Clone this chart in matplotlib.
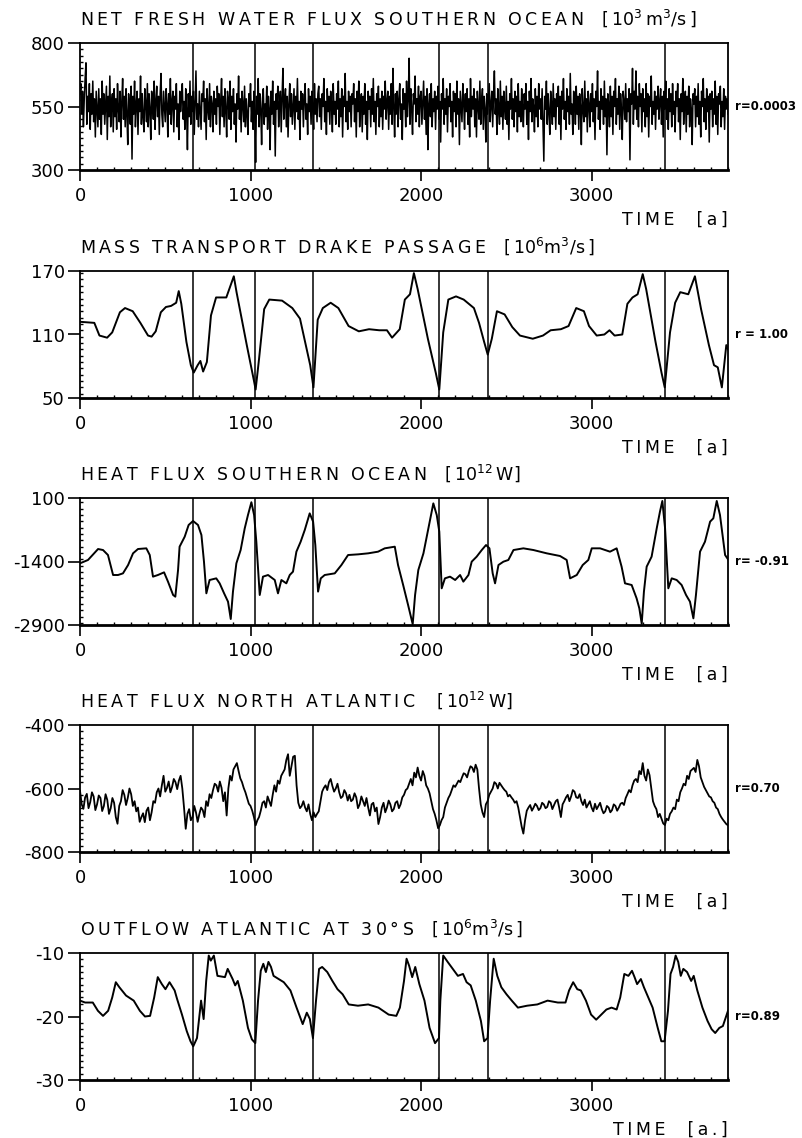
import numpy as np
import matplotlib
matplotlib.use("Agg")
import matplotlib.pyplot as plt
from matplotlib.ticker import MultipleLocator, FixedLocator

OUT_FILE = "out.png"

# years of the Drake Passage minima (vertical marker lines)
EVENTS = [665, 1028, 1368, 2107, 2390, 3428]

# panel 1: net fresh water flux Southern Ocean, one value every 5 years
FW_STEP = 5
FW_VALUES = [
    600, 640, 520, 610, 470, 580, 660, 722, 480, 590, 530, 640, 460, 600, 520, 650, 490, 580, 430, 610,
    540, 470, 620, 500, 580, 440, 650, 520, 600, 480, 560, 630, 420, 590, 510, 670, 470, 560, 600, 450,
    620, 510, 580, 460, 640, 540, 490, 610, 430, 570, 660, 500, 590, 470, 620, 520, 400, 600, 550, 480,
    630, 343, 590, 520, 650, 470, 560, 610, 440, 580, 530, 670, 480, 600, 510, 450, 620, 560, 490, 640,
    470, 600, 540, 420, 610, 580, 500, 650, 460, 570, 630, 510, 590, 440, 600, 680, 520, 470, 610, 550,
    490, 620, 560, 430, 600, 520, 660, 480, 570, 610, 450, 590, 540, 640, 470, 560, 420, 610, 530, 580,
    640, 500, 570, 460, 620, 540, 380, 600, 510, 650, 480, 590, 530, 610, 440, 570, 690, 500, 560, 470,
    610, 530, 460, 600, 570, 650, 490, 580, 420, 620, 540, 500, 640, 470, 590, 560, 450, 610, 520, 580,
    480, 630, 550, 600, 440, 570, 660, 510, 590, 470, 620, 540, 430, 610, 570, 500, 650, 460, 590, 530,
    620, 480, 560, 410, 600, 540, 670, 500, 580, 450, 610, 560, 490, 630, 470, 580, 520, 440, 600, 550,
    640, 490, 570, 460, 610, 530, 330, 590, 520, 660, 470, 600, 540, 400, 580, 620, 480, 560, 510, 630,
    460, 590, 540, 380, 610, 520, 650, 480, 570, 355, 600, 540, 630, 470, 560, 610, 450, 590, 700, 500,
    570, 620, 470, 590, 430, 560, 640, 510, 600, 480, 550, 620, 460, 590, 530, 660, 500, 570, 420, 610,
    540, 600, 470, 580, 640, 500, 560, 440, 620, 530, 590, 480, 610, 550, 460, 640, 520, 580, 490, 600,
    630, 510, 580, 460, 600, 550, 660, 490, 570, 440, 620, 530, 590, 480, 610, 560, 450, 640, 520, 570,
    480, 600, 540, 650, 470, 580, 510, 620, 430, 590, 550, 680, 490, 570, 460, 610, 530, 590, 470, 600,
    560, 640, 490, 580, 430, 610, 530, 650, 470, 560, 600, 450, 590, 520, 640, 480, 570, 420, 610, 540,
    590, 470, 620, 520, 660, 490, 570, 440, 600, 550, 630, 470, 580, 510, 610, 460, 590, 540, 650, 500,
    570, 610, 460, 590, 520, 640, 480, 700, 550, 430, 600, 520, 610, 470, 580, 640, 500, 560, 420, 620,
    540, 600, 470, 650, 510, 580, 740, 480, 620, 540, 440, 600, 560, 670, 490, 580, 520, 630, 470, 590,
    610, 480, 570, 650, 500, 590, 440, 620, 380, 560, 600, 510, 640, 470, 580, 530, 610, 460, 590, 540,
    630, 500, 570, 410, 600, 540, 660, 480, 580, 520, 620, 450, 590, 550, 640, 490, 570, 430, 610, 530,
    600, 470, 650, 520, 580, 400, 610, 550, 490, 640, 570, 460, 600, 530, 620, 480, 580, 430, 660, 510,
    590, 540, 620, 470, 580, 430, 610, 550, 500, 650, 480, 570, 620, 460, 590, 540, 410, 600, 520, 580,
    640, 490, 560, 610, 470, 590, 690, 520, 580, 440, 620, 540, 480, 650, 510, 590, 460, 610, 550, 500,
    630, 480, 570, 420, 600, 540, 660, 500, 580, 470, 610, 530, 590, 450, 640, 510, 570, 490, 620, 550,
    470, 600, 540, 640, 480, 570, 420, 610, 530, 660, 490, 580, 550, 450, 620, 510, 590, 470, 640, 540,
    580, 500, 620, 470, 335, 590, 540, 650, 480, 600, 530, 440, 610, 560, 480, 640, 510, 580, 460, 600,
    550, 630, 480, 590, 420, 610, 540, 660, 500, 570, 460, 620, 530, 590, 480, 680, 520, 560, 440, 610,
    570, 480, 630, 520, 590, 460, 600, 550, 400, 620, 540, 490, 650, 510, 580, 450, 610, 560, 470, 600,
    530, 640, 490, 580, 420, 610, 550, 690, 500, 570, 460, 620, 540, 590, 480, 650, 510, 580, 360, 600,
    560, 470, 630, 510, 590, 440, 610, 550, 660, 480, 580, 520, 630, 460, 600, 540, 420, 610, 570, 500,
    640, 490, 580, 530, 620, 340, 600, 560, 700, 480, 610, 540, 690, 500, 590, 470, 640, 550, 600, 450,
    620, 530, 580, 470, 640, 510, 600, 430, 590, 550, 670, 480, 570, 520, 610, 460, 590, 540, 630, 500,
    570, 620, 480, 590, 430, 610, 540, 650, 500, 580, 460, 620, 530, 600, 470, 640, 520, 570, 450, 610,
    550, 640, 490, 580, 420, 600, 530, 660, 480, 570, 610, 450, 590, 520, 630, 470, 580, 540, 400, 600,
    560, 620, 470, 590, 510, 640, 480, 570, 430, 610, 550, 660, 490, 580, 460, 620, 530, 590, 410, 600,
    540, 610, 470, 580, 520, 650, 480, 590, 440, 600, 560, 630, 470, 570, 510, 620, 460, 590, 540, 580,
    520,
]

# panel 2: mass transport Drake Passage
DRAKE_YEARS = [
    0, 84, 114, 159, 189, 234, 264, 309, 354, 399, 420, 444, 474, 504, 534, 564, 579, 594, 624, 650,
    667, 690, 706, 722, 744, 768, 798, 858, 902, 918, 978, 1018, 1030, 1050, 1080, 1110, 1185, 1245, 1290, 1320,
    1350, 1369, 1394, 1424, 1470, 1515, 1575, 1635, 1695, 1755, 1800, 1830, 1875, 1905, 1935, 1958, 1980, 2040, 2086, 2107,
    2130, 2160, 2205, 2250, 2310, 2340, 2370, 2391, 2415, 2445, 2490, 2535, 2580, 2655, 2715, 2760, 2820, 2865, 2910, 2955,
    2985, 3030, 3075, 3105, 3135, 3180, 3210, 3240, 3270, 3300, 3320, 3375, 3410, 3429, 3460, 3490, 3520, 3567, 3606, 3642,
    3688, 3718, 3740, 3764, 3790, 3800,
]
DRAKE_VALUES = [
    122, 121, 109, 107, 112, 131, 135, 132, 121, 109, 108, 113, 131, 136, 137, 140, 151, 139, 103, 81,
    74, 81, 85, 75, 84, 128, 145, 145, 165, 150, 100, 68, 58, 87, 134, 143, 142, 135, 125, 103,
    81, 60, 124, 135, 140, 135, 118, 113, 115, 114, 114, 107, 115, 143, 148, 168, 153, 106, 74, 58,
    112, 143, 146, 143, 135, 121, 103, 91, 106, 132, 129, 117, 109, 106, 109, 114, 115, 118, 135, 132,
    118, 109, 110, 114, 109, 110, 139, 145, 148, 167, 153, 103, 74, 60, 112, 140, 150, 148, 165, 134,
    100, 81, 79, 60, 100, 96,
]

# panel 3: heat flux Southern Ocean
HFSO_YEARS = [
    0, 47, 106, 135, 164, 194, 223, 252, 282, 311, 340, 389, 409, 428, 457, 493, 516, 546, 559, 575,
    584, 614, 637, 663, 692, 712, 727, 741, 760, 799, 819, 845, 868, 884, 897, 917, 942, 966, 985, 1005,
    1021, 1034, 1054, 1073, 1103, 1142, 1161, 1181, 1210, 1230, 1249, 1269, 1294, 1318, 1347, 1367, 1380, 1396, 1412, 1435,
    1494, 1533, 1572, 1631, 1690, 1748, 1787, 1846, 1865, 1895, 1924, 1951, 1965, 1984, 2014, 2043, 2072, 2092, 2107, 2121,
    2140, 2170, 2200, 2229, 2248, 2278, 2297, 2326, 2356, 2381, 2401, 2420, 2434, 2454, 2483, 2512, 2542, 2600, 2659, 2737,
    2815, 2854, 2874, 2913, 2948, 2981, 3001, 3050, 3108, 3147, 3176, 3196, 3235, 3264, 3280, 3294, 3307, 3323, 3352, 3382,
    3401, 3415, 3431, 3450, 3470, 3499, 3528, 3554, 3577, 3597, 3612, 3636, 3665, 3695, 3714, 3734, 3753, 3783, 3800,
]
HFSO_VALUES = [
    -1443, -1364, -1105, -1129, -1247, -1719, -1719, -1680, -1483, -1207, -1105, -1089, -1247, -1758, -1719, -1656, -1876, -2191, -2231, -1601,
    -1050, -814, -538, -443, -538, -774, -1404, -2152, -1837, -1798, -1916, -2152, -2349, -2758, -2112, -1443, -1129, -617, -302, 0,
    -302, -932, -2191, -1758, -1719, -1837, -2152, -1837, -1916, -1719, -1640, -1168, -932, -656, -263, -459, -1011, -2112, -1798, -1719,
    -1680, -1483, -1247, -1231, -1207, -1168, -1089, -1050, -1483, -1955, -2428, -2880, -2191, -1601, -1207, -617, -27, -302, -696, -2034,
    -1798, -1758, -1837, -1719, -1876, -1719, -1404, -1286, -1129, -1011, -1089, -1680, -1916, -1483, -1404, -1364, -1129, -1089, -1129, -1207,
    -1270, -1364, -1798, -1719, -1483, -1364, -1089, -1089, -1168, -1089, -1522, -1916, -1955, -2270, -2506, -2870, -2112, -1522, -1286, -617,
    -223, 30, -617, -2034, -1798, -1837, -1955, -2191, -2349, -2743, -2191, -1168, -932, -459, -380, 30, -302, -1247, -1348,
]

# panel 4: heat flux North Atlantic, one value every 10 years
HFNA_STEP = 10
HFNA_VALUES = [
    -607, -650, -664, -628, -617, -662, -643, -612, -625, -668, -650, -622, -630, -671, -655, -618, -636, -680, -662, -630,
    -645, -690, -711, -655, -640, -605, -620, -652, -630, -600, -618, -655, -640, -672, -660, -705, -690, -678, -706, -670,
    -660, -700, -675, -640, -645, -612, -600, -625, -590, -560, -610, -598, -578, -612, -595, -570, -580, -602, -575, -560,
    -600, -660, -727, -680, -665, -700, -690, -655, -675, -705, -680, -660, -668, -690, -640, -655, -618, -630, -605, -585,
    -590, -610, -578, -598, -640, -612, -685, -600, -560, -575, -540, -530, -520, -545, -568, -580, -598, -612, -630, -648,
    -655, -670, -690, -716, -700, -690, -670, -645, -640, -660, -625, -640, -655, -620, -590, -610, -575, -585, -560, -550,
    -540, -510, -492, -560, -530, -500, -497, -590, -645, -662, -655, -640, -660, -672, -650, -680, -700, -675, -690, -680,
    -672, -640, -610, -598, -590, -605, -580, -570, -592, -610, -600, -585, -612, -630, -625, -605, -615, -638, -620, -640,
    -635, -615, -628, -662, -650, -625, -640, -655, -630, -660, -685, -650, -645, -672, -660, -712, -690, -660, -645, -675,
    -660, -638, -650, -672, -665, -645, -640, -662, -650, -628, -620, -605, -600, -585, -570, -590, -550, -565, -534, -560,
    -575, -545, -560, -590, -600, -615, -640, -665, -680, -700, -725, -716, -700, -690, -660, -645, -630, -620, -605, -590,
    -595, -585, -575, -580, -565, -552, -555, -565, -545, -530, -534, -548, -525, -540, -600, -650, -675, -690, -650, -640,
    -620, -610, -600, -580, -585, -600, -582, -590, -598, -605, -610, -625, -620, -628, -635, -645, -640, -660, -690, -720,
    -742, -700, -670, -660, -652, -670, -660, -648, -655, -668, -662, -645, -650, -662, -658, -640, -645, -665, -652, -640,
    -635, -660, -690, -650, -640, -628, -620, -640, -625, -605, -610, -628, -630, -618, -640, -652, -635, -660, -650, -640,
    -660, -672, -648, -665, -655, -645, -665, -678, -672, -655, -660, -675, -668, -650, -655, -670, -660, -648, -645, -652,
    -630, -618, -605, -612, -590, -575, -570, -580, -545, -555, -520, -560, -575, -540, -558, -600, -640, -655, -665, -690,
    -680, -695, -710, -715, -695, -700, -680, -672, -660, -665, -635, -640, -612, -600, -585, -590, -560, -570, -545, -540,
    -535, -548, -510, -530, -565, -580, -595, -605, -615, -625, -628, -640, -645, -660, -665, -680, -690, -698, -705, -712,
    -716,
]

# panel 5: outflow Atlantic at 30S
OUT_YEARS = [
    0, 30, 75, 105, 135, 165, 189, 210, 231, 270, 315, 351, 381, 411, 435, 456, 480, 501, 525, 555,
    570, 598, 626, 648, 664, 686, 710, 725, 740, 755, 767, 785, 806, 850, 866, 895, 910, 925, 955, 985,
    1008, 1028, 1044, 1060, 1075, 1090, 1105, 1120, 1135, 1165, 1195, 1234, 1270, 1306, 1330, 1348, 1366, 1384, 1402, 1420,
    1450, 1480, 1510, 1540, 1576, 1630, 1690, 1750, 1810, 1855, 1876, 1900, 1915, 1930, 1948, 1966, 1990, 2020, 2050, 2082,
    2105, 2113, 2130, 2156, 2186, 2216, 2246, 2267, 2291, 2321, 2351, 2370, 2390, 2405, 2426, 2447, 2471, 2501, 2532, 2568,
    2622, 2682, 2742, 2802, 2847, 2868, 2892, 2916, 2937, 2967, 2997, 3027, 3057, 3087, 3117, 3147, 3168, 3192, 3216, 3237,
    3252, 3267, 3289, 3307, 3328, 3358, 3388, 3409, 3428, 3448, 3463, 3478, 3493, 3508, 3523, 3538, 3560, 3584, 3599, 3620,
    3650, 3680, 3704, 3725, 3749, 3770, 3790, 3800,
]
OUT_VALUES = [
    -17.5, -17.8, -17.8, -19.1, -19.9, -19.1, -17.0, -14.6, -15.4, -16.7, -17.5, -19.1, -20.0, -19.9, -17.0, -13.8, -14.9, -15.7, -14.6, -15.9,
    -17.3, -19.7, -22.3, -23.9, -24.7, -23.4, -17.5, -20.4, -14.4, -10.4, -11.2, -10.4, -13.6, -13.8, -12.5, -14.1, -15.1, -14.4, -17.5, -21.8,
    -23.6, -24.2, -17.5, -12.8, -11.7, -13.0, -11.4, -12.2, -13.6, -14.1, -14.6, -15.9, -18.6, -21.2, -19.4, -20.4, -23.4, -17.5, -12.5, -12.2,
    -13.0, -14.4, -15.7, -16.5, -18.1, -18.3, -18.1, -18.6, -19.7, -19.9, -18.6, -14.4, -10.9, -12.0, -13.8, -12.2, -14.9, -17.5, -21.8, -24.2,
    -23.4, -17.5, -10.4, -11.4, -12.5, -13.6, -13.3, -14.6, -15.1, -17.5, -20.7, -23.9, -23.4, -17.5, -10.9, -13.6, -15.4, -16.5, -17.5, -18.6,
    -18.3, -18.1, -17.5, -17.8, -17.8, -15.9, -14.6, -15.7, -15.9, -17.5, -19.7, -20.5, -19.7, -18.9, -18.6, -18.9, -17.0, -13.3, -13.6, -12.8,
    -13.8, -14.9, -14.1, -15.4, -16.7, -18.6, -21.8, -23.9, -23.9, -19.1, -13.3, -12.2, -10.4, -11.4, -13.6, -12.5, -13.0, -14.4, -13.6, -15.9,
    -18.6, -20.7, -22.0, -22.6, -21.8, -21.5, -19.9, -19.1,
]

TITLES = [
    ("NET FRESH WATER FLUX SOUTHERN OCEAN", "[\u200910$^3$\u2009m$^3$/s\u2009]"),
    ("MASS TRANSPORT DRAKE PASSAGE", "[\u200910$^6$m$^3$/s\u2009]"),
    ("HEAT FLUX SOUTHERN OCEAN", "[\u200910$^{12}$\u2009W]"),
    ("HEAT FLUX NORTH ATLANTIC", "\u2009[\u200910$^{12}$\u2009W]"),
    ("OUTFLOW ATLANTIC AT 30°S", "[\u200910$^6$m$^3$/s\u2009]"),
]
Y_RANGES = [(300, 800), (50, 170), (-2900, 100), (-800, -400), (-30, -10)]
R_LABELS = ["r=0.0003", "r = 1.00", "r= -0.91", "r=0.70", "r=0.89"]
TIME_UNITS = ["[a]", "[a]", "[a]", "[a]", "[a.]"]

# layout in pixels of the 802 x 1138 figure
FIG_W, FIG_H = 802, 1138
AX_LEFT, AX_WIDTH, AX_HEIGHT = 80, 648, 127
PANEL_TOPS = [43, 271, 498, 725, 953]


def spaced(text):
    # mimic the wide letter spacing of the original lettering
    return "\u2009".join(text)


def style_axes(ax, ylim):
    lo, hi = ylim
    ax.set_xlim(0, 3800)
    ax.set_ylim(lo, hi)
    ax.xaxis.set_major_locator(MultipleLocator(1000))
    ax.xaxis.set_minor_locator(MultipleLocator(100))
    ax.yaxis.set_major_locator(FixedLocator([lo, (lo + hi) / 2, hi]))
    ax.yaxis.set_minor_locator(MultipleLocator((hi - lo) / 20))
    ax.tick_params(which="major", direction="out", length=9, width=1.2,
                   labelsize=13, pad=2)
    ax.tick_params(axis="x", which="major", length=8, pad=4)
    ax.tick_params(which="minor", direction="in", length=2.5, width=1.0)
    for side, sp in ax.spines.items():
        sp.set_linewidth(2.0 if side == "bottom" else 1.3)


def main():
    plt.rcParams["font.family"] = ["DejaVu Sans"]
    plt.rcParams["mathtext.default"] = "regular"
    plt.rcParams["axes.unicode_minus"] = False

    fw_years = np.arange(len(FW_VALUES)) * FW_STEP
    hfna_years = np.arange(len(HFNA_VALUES)) * HFNA_STEP
    series = [
        (fw_years, FW_VALUES, 1.1),
        (DRAKE_YEARS, DRAKE_VALUES, 1.4),
        (HFSO_YEARS, HFSO_VALUES, 1.4),
        (hfna_years, HFNA_VALUES, 1.3),
        (OUT_YEARS, OUT_VALUES, 1.4),
    ]

    fig = plt.figure(figsize=(FIG_W / 100, FIG_H / 100), dpi=100)
    for i, (x, y, lw) in enumerate(series):
        top = PANEL_TOPS[i]
        rect = [AX_LEFT / FIG_W, 1 - (top + AX_HEIGHT) / FIG_H,
                AX_WIDTH / FIG_W, AX_HEIGHT / FIG_H]
        ax = fig.add_axes(rect)
        ax.plot(x, y, color="black", lw=lw)
        for ev in EVENTS:
            ax.axvline(ev, color="black", lw=1.1)
        style_axes(ax, Y_RANGES[i])

        name, unit = TITLES[i]
        ax.annotate(spaced(name) + "\u2009  \u2009" + unit,
                    xy=(0, 1), xycoords="axes fraction",
                    xytext=(0, 13), textcoords="offset points",
                    ha="left", va="baseline", fontsize=12.5)
        ax.annotate(R_LABELS[i], xy=(1, 0.5), xycoords="axes fraction",
                    xytext=(5, 0), textcoords="offset points",
                    ha="left", va="center", fontsize=8.5, fontweight="bold")
        ax.annotate(spaced("TIME") + "    " + spaced(TIME_UNITS[i]),
                    xy=(1, 0), xycoords="axes fraction",
                    xytext=(0, -29), textcoords="offset points",
                    ha="right", va="top", fontsize=12.5)

    fig.savefig(OUT_FILE, dpi=100)
    plt.close(fig)
    print("Saved plot:", OUT_FILE)


if __name__ == "__main__":
    main()
